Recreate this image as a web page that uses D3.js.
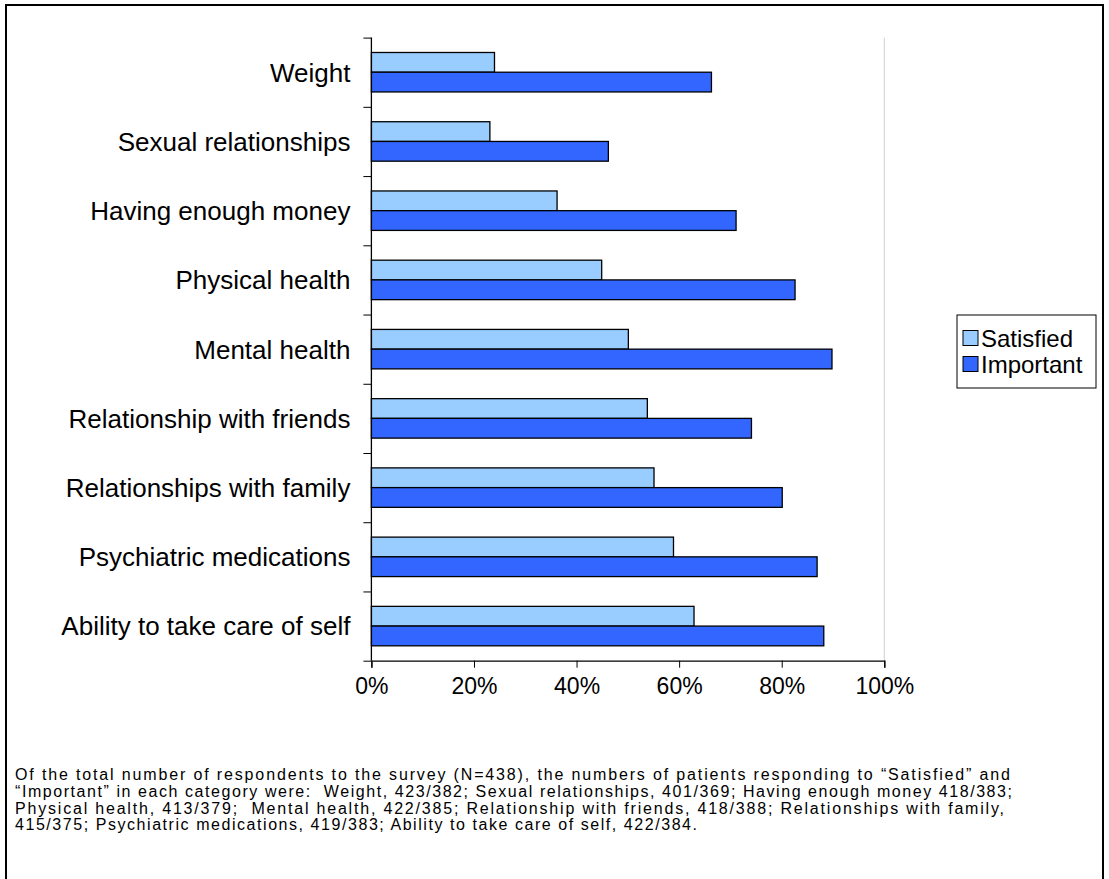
<!DOCTYPE html>
<html><head><meta charset="utf-8">
<script src="https://cdn.jsdelivr.net/npm/d3@7"></script>
<style>
body{margin:0;background:#fff}
svg{display:block}
text{font-family:Arial,"Liberation Sans",sans-serif;fill:#000}
</style>
</head><body>
<svg id="c" width="1109" height="879"></svg>
<script>
const categories = ["Weight","Sexual relationships","Having enough money","Physical health","Mental health","Relationship with friends","Relationships with family","Psychiatric medications","Ability to take care of self"];
const satisfied = [24.0,23.1,36.2,44.9,50.1,53.8,55.1,58.9,62.9];
const important = [66.3,46.2,71.1,82.6,89.8,74.1,80.1,86.9,88.2];
const seriesNames = ["Satisfied","Important"];
const seriesColors = ["#99CCFF","#3366FF"];
const xTicks = [0,20,40,60,80,100];
const footnoteLines = [
  "Of the total number of respondents to the survey (N=438), the numbers of patients responding to \u201CSatisfied\u201D and",
  "\u201CImportant\u201D in each category were:  Weight, 423/382; Sexual relationships, 401/369; Having enough money 418/383;",
  "Physical health, 413/379;  Mental health, 422/385; Relationship with friends, 418/388; Relationships with family,",
  "415/375; Psychiatric medications, 419/383; Ability to take care of self, 422/384."
];
const footnoteWidths = [995, 997, 989, 682];

const svg = d3.select("#c");
const L = 371.4, R = 884.3, T = 37.6, B = 660.7;

// outer frame
svg.append("rect").attr("x",6).attr("y",5).attr("width",1097).attr("height",900)
  .attr("fill","none").attr("stroke","#000").attr("stroke-width",2);

const x = d3.scaleLinear().domain([0,100]).range([L,R]);
const y = d3.scaleBand().domain(categories).range([T,B]).paddingInner(0.43).paddingOuter(0.215);
const ys = d3.scaleBand().domain(seriesNames).range([0,y.bandwidth()]);
const yb = d3.scaleLinear().domain([0,categories.length]).range([T,B]);

// right plot edge
svg.append("line").attr("x1",R).attr("x2",R).attr("y1",T).attr("y2",B)
  .attr("stroke","#d0d0d0").attr("stroke-width",1);

// bars
const series = [satisfied, important];
series.forEach((vals,si)=>{
  svg.append("g").selectAll("rect").data(categories).join("rect")
    .attr("x",x(0))
    .attr("y",d=>y(d)+ys(seriesNames[si]))
    .attr("width",(d,i)=>x(vals[i])-x(0))
    .attr("height",ys.bandwidth())
    .attr("fill",seriesColors[si])
    .attr("stroke","#000").attr("stroke-width",1.3);
});

// y axis: boundary ticks
const yAxisG = svg.append("g").attr("transform",`translate(${L},0)`)
  .call(d3.axisLeft(yb).tickValues(d3.range(0,categories.length+1)).tickSize(8).tickFormat(""));
yAxisG.select(".domain").attr("stroke","#000").attr("stroke-width",1.3).attr("d",`M-0,${T}V${B}`);
yAxisG.selectAll(".tick line").attr("stroke","#000").attr("stroke-width",1);

// y labels
const yLab = svg.append("g").attr("transform",`translate(${L},0)`)
  .call(d3.axisLeft(y).tickSize(0).tickPadding(21));
yLab.select(".domain").remove();
yLab.selectAll("text").style("font-size","26px").attr("dy","0.36em");

// x axis
const xAxisG = svg.append("g").attr("transform",`translate(0,${B})`)
  .call(d3.axisBottom(x).tickValues(xTicks).tickSize(7).tickPadding(10).tickFormat(d=>d+"%"));
xAxisG.select(".domain").attr("stroke","#000").attr("stroke-width",1.3);
xAxisG.selectAll(".tick line").attr("stroke","#000").attr("stroke-width",1);
xAxisG.selectAll("text").style("font-size","23px");

// legend
const lg = svg.append("g");
lg.append("rect").attr("x",957).attr("y",315).attr("width",139).attr("height",73)
  .attr("fill","#fff").attr("stroke","#000").attr("stroke-width",1);
seriesNames.forEach((n,i)=>{
  const cy = 338 + i*26;
  lg.append("rect").attr("x",963).attr("y",cy-7.5).attr("width",15).attr("height",15)
    .attr("fill",seriesColors[i]).attr("stroke","#000").attr("stroke-width",1);
  lg.append("text").attr("x",981).attr("y",cy).attr("dy","0.36em").style("font-size","24px").text(n);
});

// footnote
const fn = svg.append("text").style("font-size","16px").attr("xml:space","preserve").style("white-space","pre");
footnoteLines.forEach((t,i)=>{
  fn.append("tspan").attr("x",15).attr("y",780 + i*16.8)
    .attr("textLength",footnoteWidths[i]).attr("lengthAdjust","spacing").text(t);
});
</script>
</body></html>
